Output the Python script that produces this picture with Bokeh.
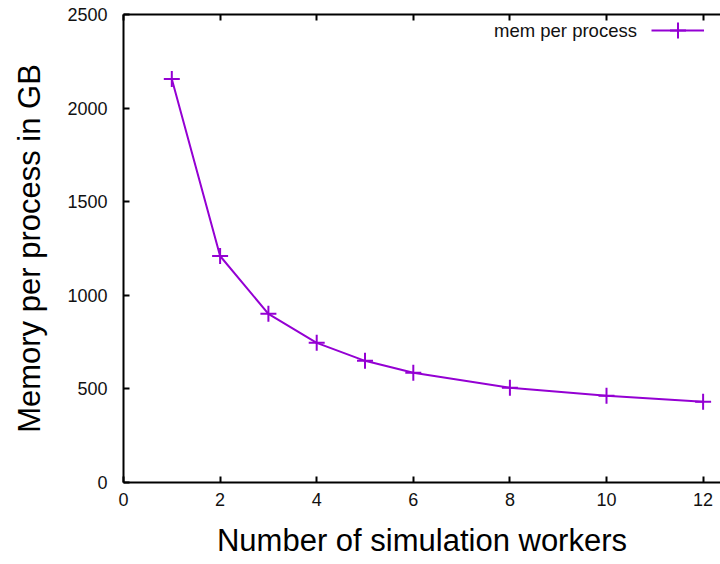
from bokeh.plotting import figure
from bokeh.models import (Range1d, LinearAxis, FixedTicker, Legend, LegendItem, Label,
                          CustomJSTickFormatter)
from bokeh.embed import file_html
from bokeh.resources import INLINE

workers = [1, 2, 3, 4, 5, 6, 8, 10, 12]
mem_per_process = [2155, 1210, 901, 746, 650, 586, 506, 463, 431]
x_ticks = [0, 2, 4, 6, 8, 10, 12]
y_ticks = [0, 500, 1000, 1500, 2000, 2500]
series_name = "mem per process"
x_title = "Number of simulation workers"
y_title = "Memory per process in GB"

COLOR = "#9400D3"
FONT = "Liberation Sans"

p = figure(width=720, height=564, output_backend="svg", toolbar_location=None,
           x_range=Range1d(0, 12.36), y_range=Range1d(0, 2500),
           min_border_left=123, min_border_right=0, min_border_top=14,
           min_border_bottom=82,
           x_axis_label=x_title, y_axis_label=y_title)
p.outline_line_color = None
p.xgrid.grid_line_color = None
p.ygrid.grid_line_color = None
p.background_fill_color = "white"
p.border_fill_color = "white"

for ax, ticks in ((p.xaxis[0], x_ticks), (p.yaxis[0], y_ticks)):
    ax.ticker = FixedTicker(ticks=ticks)
    ax.major_tick_in = 6
    ax.major_tick_out = 0
    ax.minor_tick_line_color = None
    ax.axis_line_width = 2
    ax.major_tick_line_width = 2
    ax.major_label_text_font = FONT
    ax.major_label_text_font_size = "18px"
    ax.major_label_text_color = "#111111"
    ax.axis_label_text_font = FONT
    ax.axis_label_text_font_size = "31px"
    ax.axis_label_text_font_style = "normal"
    ax.axis_label_text_color = "black"

p.xaxis[0].major_label_standoff = 10
p.xaxis[0].axis_label_standoff = 14
p.yaxis[0].major_label_standoff = 16
p.yaxis[0].axis_label_standoff = 17

top = LinearAxis(ticker=FixedTicker(ticks=x_ticks), major_tick_in=6, major_tick_out=0,
                 minor_tick_line_color=None, axis_line_width=2, major_tick_line_width=2,
                 formatter=CustomJSTickFormatter(code="return ''"),
                 major_label_text_font_size="1px", major_label_standoff=0)
p.add_layout(top, "above")

line = p.line(workers, mem_per_process, line_color=COLOR, line_width=2)
pts = p.scatter(workers, mem_per_process, marker="cross", size=16,
                line_color=COLOR, line_width=2)

legend = Legend(items=[LegendItem(label=" ", renderers=[line, pts])],
                location=(528, 432), glyph_width=53, glyph_height=40,
                padding=0, margin=0, label_standoff=0, label_width=0,
                border_line_color=None, background_fill_alpha=0,
                label_text_font_size="1px")
p.add_layout(legend)

p.add_layout(Label(x=10.63, y=2412, text=series_name, text_align="right",
                   text_baseline="middle", text_font=FONT, text_font_size="18.5px",
                   text_color="#111111"))

open("out.html", "w").write(file_html(p, INLINE))
